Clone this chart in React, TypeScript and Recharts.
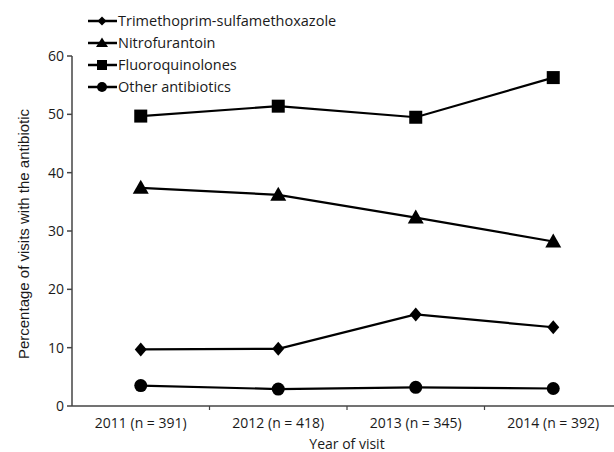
import React from 'react';
import { LineChart, Line, XAxis, YAxis, Legend } from 'recharts';

const categories = ['2011 (n = 391)', '2012 (n = 418)', '2013 (n = 345)', '2014 (n = 392)'];
const tmpSmx = [9.7, 9.8, 15.7, 13.5];
const nitrofurantoin = [37.4, 36.2, 32.3, 28.2];
const fluoroquinolones = [49.7, 51.4, 49.5, 56.3];
const otherAntibiotics = [3.5, 2.9, 3.2, 3.0];
const yTicks = [0, 10, 20, 30, 40, 50, 60];

const seriesNames = ['Trimethoprim-sulfamethoxazole', 'Nitrofurantoin', 'Fluoroquinolones', 'Other antibiotics'];

const data = categories.map((c, i) => ({
  year: c,
  tmp: tmpSmx[i],
  nitro: nitrofurantoin[i],
  fluoro: fluoroquinolones[i],
  other: otherAntibiotics[i],
}));

const FONT = '"Open Sans", sans-serif';
const INK = '#1a1a1a';
const AXIS = '#444';

type Shape = 'diamond' | 'triangle' | 'square' | 'circle';

function marker(shape: Shape, cx: number, cy: number, key?: string) {
  switch (shape) {
    case 'diamond':
      return <polygon key={key} points={`${cx},${cy - 7} ${cx + 6},${cy} ${cx},${cy + 7} ${cx - 6},${cy}`} fill="#000" />;
    case 'triangle':
      return <polygon key={key} points={`${cx},${cy - 8} ${cx + 8},${cy + 6} ${cx - 8},${cy + 6}`} fill="#000" />;
    case 'square':
      return <rect key={key} x={cx - 6.5} y={cy - 6.5} width={13} height={13} fill="#000" />;
    default:
      return <circle key={key} cx={cx} cy={cy} r={6.5} fill="#000" />;
  }
}

function legendMarker(shape: Shape, cx: number, cy: number) {
  switch (shape) {
    case 'diamond':
      return <polygon points={`${cx},${cy - 4.5} ${cx + 4.5},${cy} ${cx},${cy + 4.5} ${cx - 4.5},${cy}`} fill="#000" />;
    case 'triangle':
      return <polygon points={`${cx},${cy - 5.5} ${cx + 6},${cy + 4} ${cx - 6},${cy + 4}`} fill="#000" />;
    case 'square':
      return <rect x={cx - 5} y={cy - 5} width={10} height={10} fill="#000" />;
    default:
      return <circle cx={cx} cy={cy} r={5} fill="#000" />;
  }
}

const makeDot = (shape: Shape) => (props: any) => {
  const { cx, cy, index } = props;
  if (cx == null || cy == null) return <g key={`d-${shape}-${index}`} />;
  return marker(shape, cx, cy, `d-${shape}-${index}`);
};

const shapeByName: Record<string, Shape> = {
  'Trimethoprim-sulfamethoxazole': 'diamond',
  Nitrofurantoin: 'triangle',
  Fluoroquinolones: 'square',
  'Other antibiotics': 'circle',
};

const LegendContent = (props: any) => {
  const payload = props.payload || [];
  const names = seriesNames.filter((n) => payload.some((p: any) => p.value === n));
  return (
    <svg width={320} height={92}>
      {names.map((name: string, i: number) => {
        const y = 11 + i * 22;
        const shape = shapeByName[name] || 'circle';
        return (
          <g key={name}>
            <line x1={0} x2={29} y1={y} y2={y} stroke="#000" strokeWidth={2.5} />
            {legendMarker(shape, 14, y)}
            <text x={30} y={y} dy="0.35em" fontFamily={FONT} fontSize={14.5} fill={INK}>
              {name}
            </text>
          </g>
        );
      })}
    </svg>
  );
};

const XTick = (props: any) => {
  const { x, y, payload, index } = props;
  const half = payload.offset || 0;
  const axisY = y - 8;
  return (
    <g>
      {index > 0 && (
        <line x1={x - half} x2={x - half} y1={axisY} y2={axisY + 4} stroke={AXIS} strokeWidth={1.2} />
      )}
      <text x={x} y={y + 4} dy="0.71em" textAnchor="middle" fontFamily={FONT} fontSize={14} fill={INK}>
        {payload.value}
      </text>
    </g>
  );
};

const YLabel = (props: any) => {
  const { viewBox } = props;
  const cx = viewBox.x + 23;
  const cy = viewBox.y + viewBox.height / 2 + 3;
  return (
    <text x={cx} y={cy} transform={`rotate(-90, ${cx}, ${cy})`} textAnchor="middle" dominantBaseline="central" fontFamily='"Liberation Sans", Arial, sans-serif' fontSize={15} fill={INK}>
      Percentage of visits with the antibiotic
    </text>
  );
};

const XLabel = (props: any) => {
  const { viewBox } = props;
  const cx = viewBox.x + viewBox.width / 2;
  const cy = viewBox.y + 37;
  return (
    <text x={cx} y={cy} textAnchor="middle" dominantBaseline="central" fontFamily={FONT} fontSize={14} fill={INK}>
      Year of visit
    </text>
  );
};

export default function App() {
  return (
    <div style={{ position: 'absolute', left: 0, top: 0, width: 614, height: 452, overflow: 'hidden', background: '#fff' }}>
      <LineChart width={640} height={452} data={data} margin={{ top: 56, right: 18, bottom: 0, left: 0 }}>
        <XAxis
          dataKey="year"
          scale="band"
          height={46}
          stroke={AXIS}
          strokeWidth={1.5}
          axisLine={true}
          tickLine={false}
          tick={<XTick />}
          interval={0}
          label={<XLabel />}
        />
        <YAxis
          width={72}
          domain={[0, 60]}
          ticks={yTicks}
          stroke={AXIS}
          strokeWidth={1.5}
          axisLine={true}
          tickLine={true}
          tickSize={5}
          tickMargin={3}
          tick={{ fontFamily: FONT, fontSize: 14, fill: INK }}
          label={<YLabel />}
        />
        <Legend
          layout="horizontal"
          verticalAlign="middle"
          align="center"
          wrapperStyle={{ left: 88, top: 10, width: 320, height: 92 }}
          content={<LegendContent />}
        />
        <Line name={seriesNames[0]} dataKey="tmp" stroke="#000" strokeWidth={2.2} dot={makeDot('diamond')} activeDot={false} isAnimationActive={false} />
        <Line name={seriesNames[1]} dataKey="nitro" stroke="#000" strokeWidth={2.2} dot={makeDot('triangle')} activeDot={false} isAnimationActive={false} />
        <Line name={seriesNames[2]} dataKey="fluoro" stroke="#000" strokeWidth={2.2} dot={makeDot('square')} activeDot={false} isAnimationActive={false} />
        <Line name={seriesNames[3]} dataKey="other" stroke="#000" strokeWidth={2.2} dot={makeDot('circle')} activeDot={false} isAnimationActive={false} />
      </LineChart>
    </div>
  );
}
